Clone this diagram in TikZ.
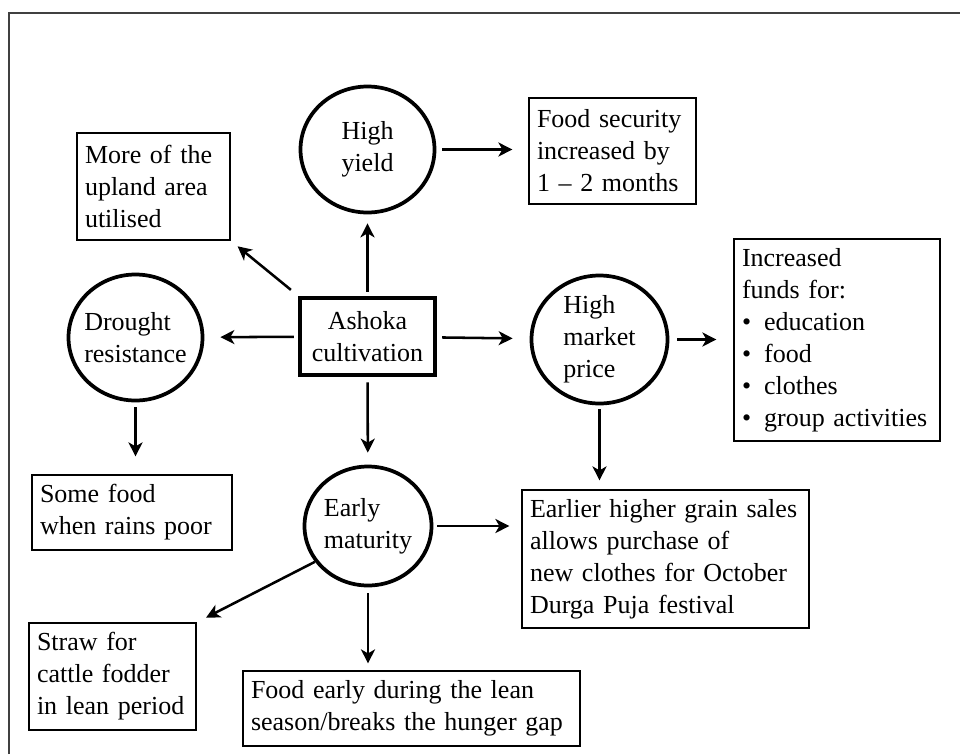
\documentclass[tikz,border=0pt]{standalone}
\usepackage{fontspec}
\setmainfont{Liberation Serif}
\usetikzlibrary{shapes.geometric,arrows.meta}

\begin{document}
\begin{tikzpicture}[x=0.75pt,y=-0.75pt,font=\fontsize{19.5}{24}\selectfont,
   >={Stealth[length=10.5pt,width=10.5pt,inset=3pt]},
   effect/.style={ellipse,draw,line width=2.8pt,align=left,inner xsep=-5pt,inner ysep=0pt},
   core/.style={rectangle,draw,line width=3.4pt,align=center,minimum width=101pt,minimum height=58pt},
   outcome/.style={rectangle,draw,line width=0.9pt,align=left,inner xsep=6pt,inner ysep=0pt}]
   \useasboundingbox (0,0) rectangle (960,754);
   \draw[line width=1.5pt,black!75] (9,754) -- (9,13) -- (960,13);

   \node[core] (ashoka) at (367.5,336.5) {Ashoka\\cultivation};
   \node[effect,minimum width=100.5pt,minimum height=94.5pt] (yield) at (367.5,149.5) {High\\yield};
   \node[effect,minimum width=100.5pt,minimum height=94.5pt] (drought) at (135.5,337.5) {Drought\\resistance};
   \node[effect,minimum width=102pt,minimum height=96pt] (market) at (599.5,339.5) {High\\market\\price};
   \node[effect,minimum width=95.25pt,minimum height=89.25pt] (early) at (368,526) {Early\\maturity};

   \node[outcome,text width=102.75pt,minimum height=80.25pt] (upland) at (153.5,186.5)
      {More of the\\upland area\\utilised};
   \node[outcome,text width=113.25pt,minimum height=79.5pt] (security) at (612.5,151)
      {Food security\\increased by\\1 -- 2 months};
   \node[outcome,text width=142.5pt,minimum height=151.5pt] (funds) at (837,340)
      {Increased\\funds for:\\
       \textbullet\hspace{0.5em}education\\
       \textbullet\hspace{0.5em}food\\
       \textbullet\hspace{0.5em}clothes\\
       \textbullet\hspace{0.5em}group activities};
   \node[outcome,text width=138pt,minimum height=56.25pt] (rains) at (132,512.5)
      {Some food\\when rains poor};
   \node[outcome,text width=203.25pt,minimum height=103.5pt] (sales) at (665.5,559)
      {Earlier higher grain sales\\allows purchase of\\new clothes for October\\Durga Puja festival};
   \node[outcome,text width=113.25pt,minimum height=80.25pt] (straw) at (112.5,676.5)
      {Straw for\\cattle fodder\\in lean period};
   \node[outcome,text width=240.75pt,minimum height=56.25pt] (lean) at (411.5,708.5)
      {Food early during the lean\\season/breaks the hunger gap};

   \path[->,line width=1.9pt]
    (ashoka) edge [shorten <=3pt,shorten >=6.75pt] (yield)
             edge [shorten <=3pt,shorten >=12pt] (drought)
             edge [shorten <=3.75pt,shorten >=12.75pt] (market)
             edge [shorten <=3.75pt,shorten >=9pt] (early)
    (ashoka.north west) edge [shorten <=6.75pt,shorten >=6.75pt] (upland.south east)
    (yield.east) edge [shorten <=4.5pt,shorten >=12pt] (yield.east -| security.west)
    (market.east) edge [shorten <=6pt,shorten >=12.75pt] (market.east -| funds.west)
    (market.south) edge [shorten <=3pt,shorten >=6.75pt] (market.south |- sales.north)
    (drought.south) edge [shorten <=3.75pt,shorten >=13.5pt] (drought.south |- rains.north)
    (early.east) edge [shorten <=3pt,shorten >=9pt] (early.east -| sales.west)
    (early.214) edge [shorten >=8pt] (straw.north east)
    (early.south) edge [shorten <=4.5pt,shorten >=5.25pt] (early.south |- lean.north);
\end{tikzpicture}
\end{document}
